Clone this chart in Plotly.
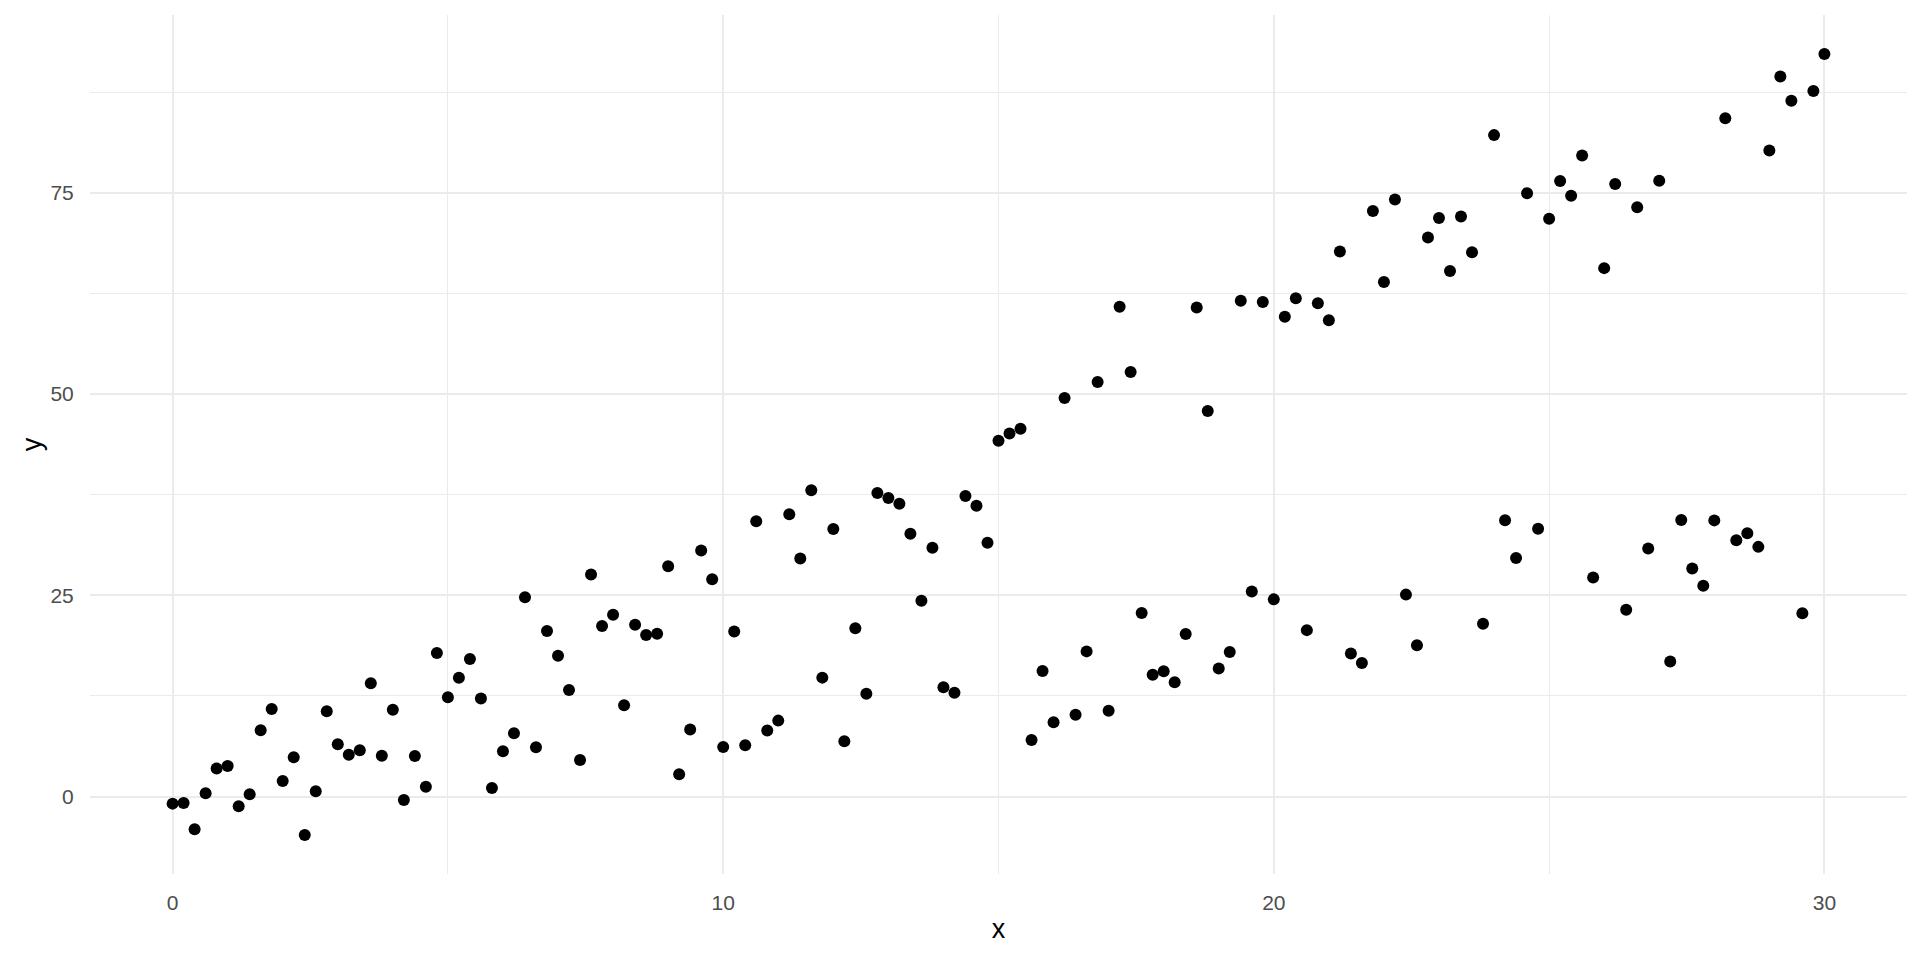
import plotly.graph_objects as go

x_vals = [round(i * 0.2, 1) for i in range(151)]

y_vals = [
    -0.87, -0.79, -4.06, 0.41, 3.48, 3.81, -1.2, 0.29, 8.24, 10.89,
    1.95, 4.88, -4.76, 0.66, 10.6, 6.5, 5.2, 5.75, 14.07, 5.09,
    10.8, -0.41, 5.05, 1.24, 17.84,
    12.35, 14.77, 17.08, 12.19, 1.08, 5.64, 7.88, 24.75, 6.14, 20.56,
    17.5, 13.23, 4.56, 27.6, 21.19, 22.6, 11.36, 21.35, 20.07, 20.23,
    28.6, 2.78, 8.33, 30.56, 26.99,
    6.15, 20.52, 6.37, 34.19, 8.2, 9.44, 35.06, 29.59, 38.04, 14.78,
    33.24, 6.87, 20.9, 12.79, 37.7, 37.09, 36.38, 32.66, 24.34, 30.92,
    13.58, 12.91, 37.33, 36.13, 31.54,
    44.2, 45.1, 45.7, 7.04, 15.6, 9.23, 49.5, 10.18, 18.04, 51.5,
    10.68, 60.85, 52.74, 22.8, 15.15, 15.56, 14.2, 20.19, 60.76, 47.9,
    15.9, 17.96, 61.59, 25.49, 61.42,
    24.5, 59.6, 61.9, 20.68, 61.27, 59.16, 67.7, 17.79, 16.6, 72.75,
    63.93, 74.17, 25.09, 18.8, 69.44, 71.88, 65.27, 72.06, 67.6, 21.46,
    82.16, 34.32, 29.64, 74.95, 33.26,
    71.78, 76.45, 74.64, 79.63, 27.21, 65.64, 76.08, 23.2, 73.2, 30.81,
    76.49, 16.77, 34.36, 28.34, 26.18, 34.31, 84.26, 31.84, 32.72, 31.02,
    80.25, 89.45, 86.42, 22.79, 87.65, 92.23,
]

x_ticks = [0, 10, 20, 30]
y_ticks = [0, 25, 50, 75]

FONT = "Liberation Sans, Arial, Helvetica, sans-serif"
GRID = "#EBEBEB"

fig = go.Figure()
fig.add_trace(go.Scatter(
    x=x_vals, y=y_vals, mode="markers",
    marker=dict(color="black", size=12, line=dict(width=0)),
    showlegend=False, hoverinfo="x+y",
))

xmin, xmax = min(x_vals), max(x_vals)
ymin, ymax = min(y_vals), max(y_vals)
xpad = (xmax - xmin) * 0.05
ypad = (ymax - ymin) * 0.05

fig.update_layout(
    width=1920, height=960,
    paper_bgcolor="white", plot_bgcolor="white",
    margin=dict(l=90, r=13, t=15, b=86, autoexpand=False),
    font=dict(family=FONT, color="black"),
    xaxis=dict(
        range=[xmin - xpad, xmax + xpad],
        tickvals=x_ticks, ticktext=[str(v) for v in x_ticks],
        showgrid=True, gridcolor=GRID, gridwidth=2,
        minor=dict(dtick=5, tick0=0, showgrid=True, gridcolor=GRID, gridwidth=1),
        zeroline=False, showline=False, automargin=False,
        ticks="outside", ticklen=10, tickcolor="rgba(0,0,0,0)",
        tickfont=dict(family=FONT, size=21, color="#4D4D4D"),
        title=dict(text="x", font=dict(family=FONT, size=27, color="black"), standoff=5),
    ),
    yaxis=dict(
        range=[ymin - ypad, ymax + ypad],
        tickvals=y_ticks, ticktext=[str(v) for v in y_ticks],
        showgrid=True, gridcolor=GRID, gridwidth=2,
        minor=dict(dtick=12.5, tick0=0, showgrid=True, gridcolor=GRID, gridwidth=1),
        zeroline=False, showline=False, automargin=False,
        ticks="outside", ticklen=11, tickcolor="rgba(0,0,0,0)",
        tickfont=dict(family=FONT, size=21, color="#4D4D4D"),
        title=dict(text="y", font=dict(family=FONT, size=27, color="black"), standoff=0),
    ),
)

fig.write_html(
    "out.html",
    config={"displayModeBar": False},
    post_script="document.body.style.margin='0';document.body.style.padding='0';",
)
